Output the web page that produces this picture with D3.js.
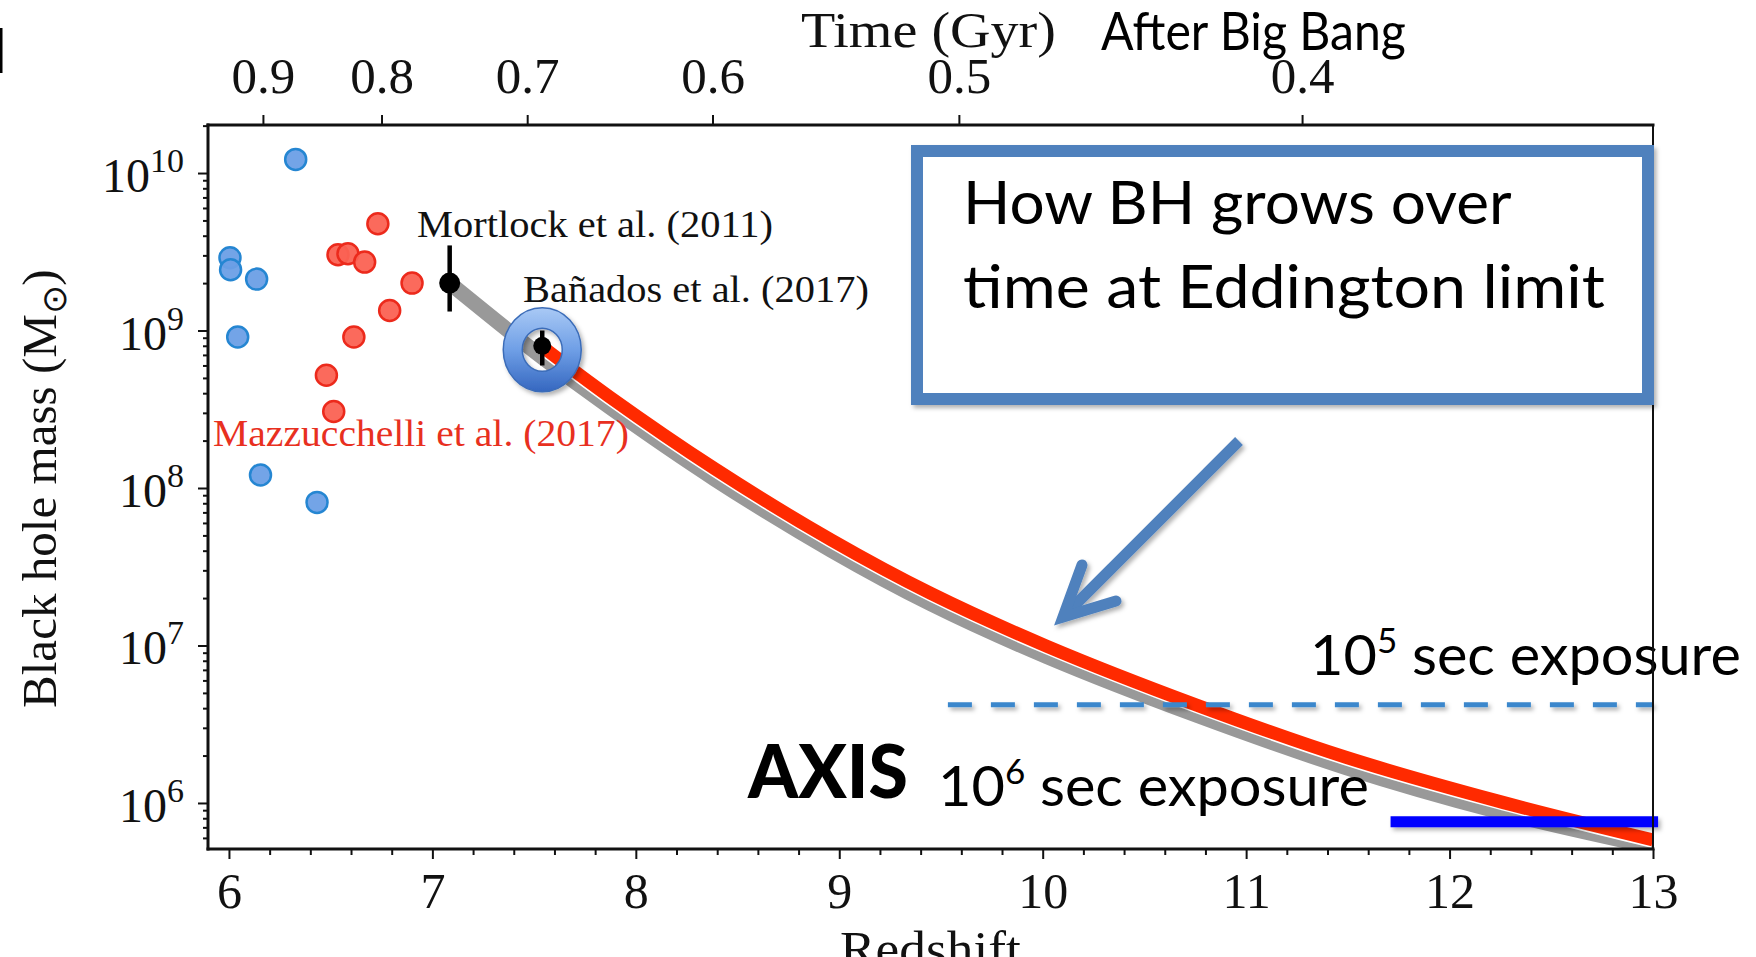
<!DOCTYPE html>
<html>
<head>
<meta charset="utf-8">
<script src="https://cdn.jsdelivr.net/npm/d3@7"></script>
<style>
  html, body { margin: 0; padding: 0; background: #fff; overflow: hidden; }
  svg { display: block; }
</style>
</head>
<body>
<svg id="chart" width="1756" height="957"></svg>
<script>
// ---- Data -------------------------------------------------------------
// Earlier z > 6 quasars (blue)
const quasarZ    = [6.328, 6.005, 6.008, 6.136, 6.043, 6.155, 6.433];
const quasarMass = [1.22e10, 2.9e9, 2.43e9, 2.12e9, 9.1e8, 1.21e8, 8.1e7];

// Mazzucchelli et al. (2017) quasars (red)
const mazzZ    = [6.732, 6.536, 6.585, 6.667, 6.90, 6.79, 6.614, 6.479, 6.515];
const mazzMass = [4.76e9, 3.03e9, 3.07e9, 2.72e9, 2.0e9, 1.34e9, 9.1e8, 5.2e8, 3.06e8];

// The two most distant quasars, with mass error bars
const recordNames  = ["Mortlock et al. (2011)", "Bañados et al. (2017)"];
const recordZ      = [7.085, 7.54];
const recordMass   = [2.0e9, 8.0e8];
const recordMassLo = [1.32e9, 6.0e8];
const recordMassHi = [3.47e9, 1.0e9];

// Eddington-limited growth tracks traced back in redshift
const trackMortZ    = [7.085, 7.54, 7.87, 8.39, 8.96, 9.45, 10.02, 10.76, 11.49, 12.23, 13.0];
const trackMortMass = [2.0e9, 6.76e8, 3.27e8, 1.135e8, 4.03e7, 1.84e7, 8.5e6, 3.59e6, 1.68e6, 8.9e5, 5.25e5];
const trackBanZ     = [7.54, 7.87, 8.39, 8.96, 9.45, 10.02, 10.76, 11.49, 12.23, 13.0];
const trackBanMass  = [7.9e8, 3.8e8, 1.32e8, 4.68e7, 2.14e7, 9.9e6, 4.17e6, 1.95e6, 1.035e6, 5.82e5];

// Detection limits for two exposure times
const exposurePower  = ["5", "6"];
const exposureMass   = [4.2e6, 7.6e5];
const exposureZStart = [9.534, 11.71];
const exposureZEnd   = [13.0, 13.025];

// Age of the Universe along the top axis
const timeTickLabels = ["0.9", "0.8", "0.7", "0.6", "0.5", "0.4"];
const timeTickZ      = [6.167, 6.75, 7.466, 8.377, 9.588, 11.275];

// Axis ticks
const redshiftTicks = [6, 7, 8, 9, 10, 11, 12, 13];
const massDecades   = [6, 7, 8, 9, 10];

// ---- Setup ------------------------------------------------------------
const serif = "'Liberation Serif', 'Times New Roman', serif";
const sans  = "Lato, 'Open Sans', sans-serif";

const svg = d3.select("#chart");
const plot = { left: 208, right: 1653, top: 125, bottom: 849 };

const x = d3.scaleLinear().domain([5.897, 13]).range([plot.left, plot.right]);
const y = d3.scaleLog().domain([Math.pow(10, 5.7077), Math.pow(10, 10.305)]).range([plot.bottom, plot.top]);

// stretch a text element horizontally so that it spans the given width
function fitWidth(sel, width) {
  const bb = sel.node().getBBox();
  const sx = width / bb.width;
  sel.attr("transform", `translate(${bb.x},0) scale(${sx},1) translate(${-bb.x},0)`);
  return sel;
}

const defs = svg.append("defs");
// soft drop shadow; user-space region so thin horizontal strokes keep it
const shadow = defs.append("filter").attr("id", "shadow")
  .attr("filterUnits", "userSpaceOnUse")
  .attr("x", 0).attr("y", 0).attr("width", 1756).attr("height", 957);
shadow.append("feDropShadow").attr("dx", 2.5).attr("dy", 3).attr("stdDeviation", 2)
  .attr("flood-color", "#000").attr("flood-opacity", 0.3);

const donutGrad = defs.append("linearGradient").attr("id", "donutGrad")
  .attr("x1", 0).attr("y1", 0).attr("x2", 0).attr("y2", 1);
donutGrad.append("stop").attr("offset", "0%").attr("stop-color", "#a9c9f5");
donutGrad.append("stop").attr("offset", "50%").attr("stop-color", "#6f9fe6");
donutGrad.append("stop").attr("offset", "100%").attr("stop-color", "#3567c0");

const clip = defs.append("clipPath").attr("id", "plotClip");
clip.append("rect").attr("x", plot.left).attr("y", plot.top)
  .attr("width", plot.right - plot.left).attr("height", plot.bottom - plot.top);

svg.append("rect").attr("width", 1756).attr("height", 957).attr("fill", "#fff");

// ---- Axes -------------------------------------------------------------
const tickStyle = g => {
  g.select(".domain").remove();
  g.selectAll(".tick line").attr("stroke", "#111").attr("stroke-width", 2);
};

const xMinor = d3.range(0, 36).map(i => 6 + i * 0.2)
  .filter(v => Math.abs(v - Math.round(v)) > 1e-6 && v <= 13);

svg.append("g").attr("transform", `translate(0,${plot.bottom})`)
  .call(d3.axisBottom(x).tickValues(xMinor).tickSize(6).tickFormat(""))
  .call(tickStyle);

svg.append("g").attr("transform", `translate(0,${plot.bottom})`)
  .call(d3.axisBottom(x).tickValues(redshiftTicks).tickSize(10).tickFormat(d3.format("d")))
  .call(tickStyle)
  .call(g => g.selectAll(".tick text")
    .attr("y", 59).attr("dy", null)
    .attr("font-family", serif).attr("font-size", 50).attr("fill", "#111"));

svg.append("g").attr("transform", `translate(0,${plot.top})`)
  .call(d3.axisTop(x).tickValues(timeTickZ).tickSize(10).tickPadding(22)
    .tickFormat((d, i) => timeTickLabels[i]))
  .call(tickStyle)
  .call(g => g.selectAll(".tick text")
    .attr("font-family", serif).attr("font-size", 51).attr("fill", "#111"));

const yMinor = [];
[5, 6, 7, 8, 9, 10].forEach(p => {
  for (let k = 2; k <= 9; k++) {
    const v = k * Math.pow(10, p);
    if (v >= y.domain()[0] && v <= y.domain()[1]) yMinor.push(v);
  }
});

svg.append("g").attr("transform", `translate(${plot.left},0)`)
  .call(d3.axisLeft(y).tickValues(yMinor).tickSize(5).tickFormat(""))
  .call(tickStyle);

svg.append("g").attr("transform", `translate(${plot.left},0)`)
  .call(d3.axisLeft(y).tickValues(massDecades.map(p => Math.pow(10, p))).tickSize(10).tickFormat(""))
  .call(tickStyle);

// decade labels written as powers of ten
const yLab = svg.append("g").selectAll("text").data(massDecades).join("text")
  .attr("x", 184).attr("y", d => y(Math.pow(10, d)) + 19)
  .attr("text-anchor", "end")
  .attr("font-family", serif).attr("font-size", 48).attr("fill", "#111");
yLab.append("tspan").text("10");
yLab.append("tspan").attr("dy", -20).attr("font-size", 34).text(d => d);

// ---- Axis titles ------------------------------------------------------
fitWidth(svg.append("text").attr("x", 801).attr("y", 47)
  .attr("font-family", serif).attr("font-size", 50).attr("fill", "#111")
  .text("Time (Gyr)"), 255);

fitWidth(svg.append("text").attr("x", 1101).attr("y", 50)
  .attr("font-family", sans).attr("font-size", 52).attr("fill", "#000")
  .text("After Big Bang"), 305);

fitWidth(svg.append("text").attr("x", 840).attr("y", 966)
  .attr("font-family", serif).attr("font-size", 50).attr("fill", "#111")
  .text("Redshift"), 181);

const yTitleG = svg.append("g").attr("transform", "translate(56,708) rotate(-90)");
const yTitle = yTitleG.append("text").attr("x", 0).attr("y", 0)
  .attr("font-family", serif).attr("font-size", 48).attr("fill", "#111");
yTitle.append("tspan").text("Black hole mass (M");
yTitle.append("tspan").attr("dy", 10).attr("font-size", 34).text("\u2299");
yTitle.append("tspan").attr("dy", -10).text(")");
fitWidth(yTitle, 439);

// ---- Growth tracks ----------------------------------------------------
const track = d3.line().x(d => x(d[0])).y(d => y(d[1])).curve(d3.curveCatmullRom.alpha(0.5));
const plotG = svg.append("g").attr("clip-path", "url(#plotClip)");

plotG.append("path").datum(d3.zip(trackMortZ, trackMortMass))
  .attr("d", track).attr("fill", "none")
  .attr("stroke", "#999999").attr("stroke-width", 15);

const banTrack = d3.zip(trackBanZ, trackBanMass);
plotG.append("path").datum(banTrack)
  .attr("d", track).attr("fill", "none")
  .attr("stroke", "#fff").attr("stroke-width", 16);
plotG.append("path").datum(banTrack)
  .attr("d", track).attr("fill", "none")
  .attr("stroke", "#ff2a00").attr("stroke-width", 13);

// ---- Quasar samples ---------------------------------------------------
svg.append("g").selectAll("circle").data(d3.zip(quasarZ, quasarMass)).join("circle")
  .attr("cx", d => x(d[0])).attr("cy", d => y(d[1])).attr("r", 10.5)
  .attr("fill", "#6b9fe6").attr("fill-opacity", 0.95)
  .attr("stroke", "#2586d2").attr("stroke-width", 2.5);

svg.append("g").selectAll("circle").data(d3.zip(mazzZ, mazzMass)).join("circle")
  .attr("cx", d => x(d[0])).attr("cy", d => y(d[1])).attr("r", 10.5)
  .attr("fill", "#fb6253").attr("fill-opacity", 0.95)
  .attr("stroke", "#ec2a1c").attr("stroke-width", 2.5);

// highlight ring around the most distant quasar
const rz = recordZ[1], rm = recordMass[1];
const cx0 = x(rz), cy0 = y(rm) + 4;
const ellipse = (rx, ry) =>
  `M${cx0 - rx},${cy0} a${rx},${ry} 0 1,0 ${2 * rx},0 a${rx},${ry} 0 1,0 ${-2 * rx},0 Z`;
svg.append("path")
  .attr("d", ellipse(39, 42) + " " + ellipse(20, 21.5))
  .attr("fill-rule", "evenodd")
  .attr("fill", "url(#donutGrad)")
  .attr("stroke", "#3b6cb8").attr("stroke-width", 1.5)
  .attr("filter", "url(#shadow)");

// record holders with error bars
const rec = svg.append("g").selectAll("g").data(d3.range(recordZ.length)).join("g");
rec.append("line")
  .attr("x1", i => x(recordZ[i])).attr("x2", i => x(recordZ[i]))
  .attr("y1", i => y(recordMassLo[i])).attr("y2", i => y(recordMassHi[i]))
  .attr("stroke", "#000").attr("stroke-width", 4.5);
rec.append("circle")
  .attr("cx", i => x(recordZ[i])).attr("cy", i => y(recordMass[i]))
  .attr("r", (d, i) => i === 0 ? 10.5 : 9).attr("fill", "#000");

// ---- Sample labels ----------------------------------------------------
fitWidth(svg.append("text").attr("x", 417).attr("y", 237)
  .attr("font-family", serif).attr("font-size", 38).attr("fill", "#111")
  .text(recordNames[0]), 356);
fitWidth(svg.append("text").attr("x", 523).attr("y", 302)
  .attr("font-family", serif).attr("font-size", 38).attr("fill", "#111")
  .text(recordNames[1]), 346);
fitWidth(svg.append("text").attr("x", 213).attr("y", 446)
  .attr("font-family", serif).attr("font-size", 38).attr("fill", "#e8301f")
  .text("Mazzucchelli et al. (2017)"), 416);

// ---- Exposure limits --------------------------------------------------
svg.append("line")
  .attr("x1", x(exposureZStart[0])).attr("x2", x(exposureZEnd[0]))
  .attr("y1", y(exposureMass[0])).attr("y2", y(exposureMass[0]))
  .attr("stroke", "#3b87cc").attr("stroke-width", 5)
  .attr("stroke-dasharray", "24 19").attr("filter", "url(#shadow)");

svg.append("line")
  .attr("x1", x(exposureZStart[1])).attr("x2", x(exposureZEnd[1]))
  .attr("y1", y(exposureMass[1])).attr("y2", y(exposureMass[1]))
  .attr("stroke", "#0000ff").attr("stroke-width", 11)
  .attr("filter", "url(#shadow)");

function exposureLabel(px, py, power, width) {
  const t = svg.append("text").attr("x", px).attr("y", py)
    .attr("font-family", sans).attr("font-size", 56).attr("fill", "#000");
  t.append("tspan").text("10");
  t.append("tspan").attr("dy", -22).attr("font-size", 34).text(power);
  t.append("tspan").attr("dy", 22).text(" sec exposure");
  fitWidth(t, width);
}
exposureLabel(1310, 675, exposurePower[0], 431);
exposureLabel(938, 806, exposurePower[1], 431);

fitWidth(svg.append("text").attr("x", 748).attr("y", 798)
  .attr("font-family", sans).attr("font-weight", 900).attr("font-size", 74).attr("fill", "#000")
  .text("AXIS"), 161);

// ---- Frame ------------------------------------------------------------
const frame = svg.append("g").attr("stroke", "#111").attr("stroke-linecap", "square");
frame.append("line").attr("x1", plot.left).attr("x2", plot.right)
  .attr("y1", plot.bottom).attr("y2", plot.bottom).attr("stroke-width", 3);
frame.append("line").attr("x1", plot.left).attr("x2", plot.right)
  .attr("y1", plot.top).attr("y2", plot.top).attr("stroke-width", 3);
frame.append("line").attr("x1", plot.left).attr("x2", plot.left)
  .attr("y1", plot.top).attr("y2", plot.bottom).attr("stroke-width", 3);
frame.append("line").attr("x1", plot.right).attr("x2", plot.right)
  .attr("y1", plot.top).attr("y2", plot.bottom).attr("stroke-width", 2);

// ---- Callout ----------------------------------------------------------
svg.append("rect").attr("x", 917).attr("y", 151).attr("width", 731).attr("height", 248)
  .attr("fill", "#fff").attr("stroke", "#4f81bd").attr("stroke-width", 12)
  .attr("filter", "url(#shadow)");

fitWidth(svg.append("text").attr("x", 963).attr("y", 224)
  .attr("font-family", sans).attr("font-size", 60).attr("fill", "#000")
  .text("How BH grows over"), 549);
fitWidth(svg.append("text").attr("x", 963).attr("y", 308)
  .attr("font-family", sans).attr("font-size", 60).attr("fill", "#000")
  .text("time at Eddington limit"), 642);

const arrow = svg.append("g").attr("stroke", "#4f81bd").attr("stroke-width", 11)
  .attr("fill", "none").attr("filter", "url(#shadow)");
arrow.append("line").attr("x1", 1239).attr("y1", 441).attr("x2", 1064).attr("y2", 616)
  .attr("stroke-linecap", "butt");
arrow.append("polyline").attr("points", "1082,565 1063,617 1116,601")
  .attr("stroke-linejoin", "miter").attr("stroke-linecap", "round");

// short marker at the top-left edge
svg.append("rect").attr("x", 0).attr("y", 28).attr("width", 2.5).attr("height", 45).attr("fill", "#000");
</script>
</body>
</html>
